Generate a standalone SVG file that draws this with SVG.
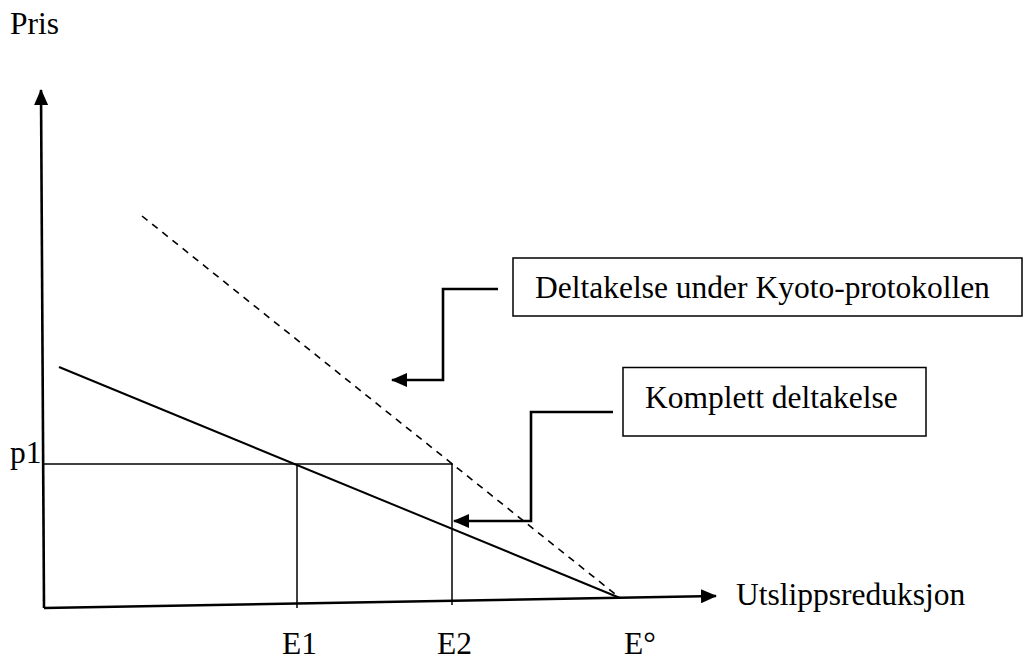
<svg xmlns="http://www.w3.org/2000/svg" width="1027" height="662" viewBox="0 0 1027 662">
<style>
text{font-family:"Liberation Serif","Times New Roman",serif;font-size:31.5px;fill:#000}
.ax{stroke:#000;stroke-width:2.6;fill:none}
.thin{stroke:#000;stroke-width:1.5;fill:none}
.conn{stroke:#000;stroke-width:2.6;fill:none}
.box{fill:#fff;stroke:#000;stroke-width:1.5}
</style>
<defs>
<marker id="ah" markerWidth="16" markerHeight="14" refX="15" refY="7" orient="auto" markerUnits="userSpaceOnUse">
<path d="M0,0 L16,7 L0,14 Z" fill="#000"/>
</marker>
</defs>
<g id="axes">
<line class="ax" x1="44" y1="608" x2="41" y2="90" marker-end="url(#ah)"/>
<line class="ax" x1="44" y1="608" x2="716" y2="596" marker-end="url(#ah)"/>
</g>
<g id="curves">
<line x1="59" y1="367" x2="620" y2="598" stroke="#000" stroke-width="2"/>
<line x1="142" y1="216" x2="620" y2="598" stroke="#000" stroke-width="1.6" stroke-dasharray="7,6"/>
<line class="thin" x1="44" y1="464" x2="453" y2="464"/>
<line class="thin" x1="297" y1="464" x2="297" y2="608"/>
<line class="thin" x1="452" y1="464" x2="452" y2="605"/>
</g>
<g id="labels">
<text x="10" y="34">Pris</text>
<text x="10" y="463">p1</text>
<text x="282" y="654">E1</text>
<text x="437" y="654">E2</text>
<text x="624" y="654">E°</text>
<text x="736" y="605">Utslippsreduksjon</text>
</g>
<g id="node-kyoto">
<rect class="box" x="513" y="258" width="509" height="58"/>
<text x="535" y="297.5">Deltakelse under Kyoto-protokollen</text>
</g>
<g id="node-komplett">
<rect class="box" x="623" y="367.5" width="303" height="68.5"/>
<text x="645" y="408">Komplett deltakelse</text>
</g>
<g id="connectors">
<path class="conn" d="M498,289 H443 V380 H392" marker-end="url(#ah)"/>
<path class="conn" d="M613,412 H531 V521 H454" marker-end="url(#ah)"/>
</g>
</svg>
